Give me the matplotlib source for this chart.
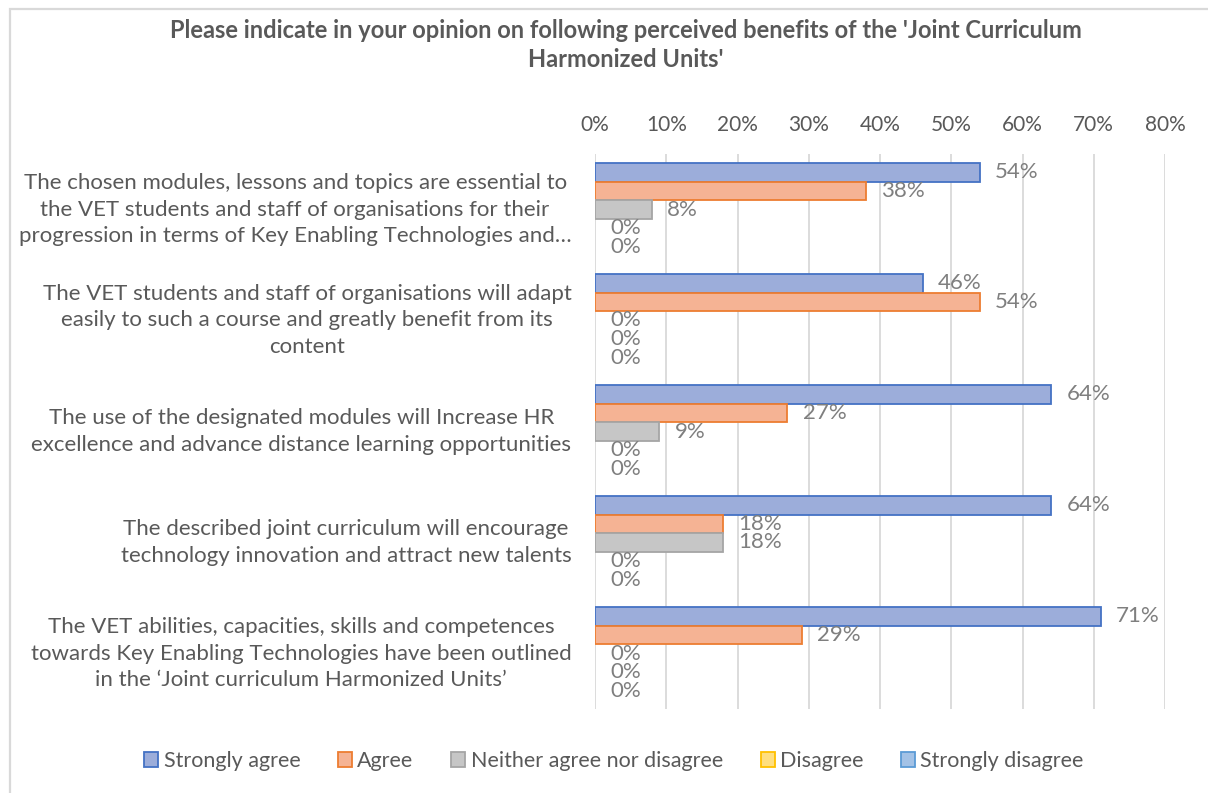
import matplotlib
matplotlib.use('Agg')
import matplotlib.pyplot as plt
import numpy as np
from matplotlib.patches import Rectangle, Patch

plt.rcParams['font.family'] = ['Lato', 'DejaVu Sans']

categories = [
    'The chosen modules, lessons and topics are essential to\nthe VET students and staff of organisations for their\nprogression in terms of Key Enabling Technologies and\u2026',
    'The VET students and staff of organisations will adapt\neasily to such a course and greatly benefit from its\ncontent',
    'The use of the designated modules will Increase HR\nexcellence and advance distance learning opportunities',
    'The described joint curriculum will encourage\ntechnology innovation and attract new talents',
    'The VET abilities, capacities, skills and competences\ntowards Key Enabling Technologies have been outlined\nin the \u2018Joint curriculum Harmonized Units\u2019',
]
series = ['Strongly agree', 'Agree', 'Neither agree nor disagree', 'Disagree', 'Strongly disagree']
strongly_agree = [54, 46, 64, 64, 71]
agree = [38, 54, 27, 18, 29]
neither = [8, 0, 9, 18, 0]
disagree = [0, 0, 0, 0, 0]
strongly_disagree = [0, 0, 0, 0, 0]
values = [strongly_agree, agree, neither, disagree, strongly_disagree]

fills = ['#9cadda', '#f5b394', '#c6c6c6', '#ffdf80', '#a3c2e6']
edges = ['#4472c4', '#ed7d31', '#a5a5a5', '#ffc000', '#5b9bd5']
grey_txt = '#595959'
lbl_txt = '#7f7f7f'

W, H = 1208, 793
fig = plt.figure(figsize=(W / 100, H / 100), dpi=100)
ax = fig.add_axes([595 / W, 1 - 709 / H, 570 / W, 555 / H])

# outer chart frame
fig.patches.append(Rectangle((10 / W, -0.1), 1.2, 1 - 9.5 / H + 0.1, transform=fig.transFigure,
                             fill=False, edgecolor='#d9d9d9', linewidth=1.6, zorder=0))

h = 0.1667
y = np.arange(len(categories))
for j, (name, vals) in enumerate(zip(series, values)):
    pos = y + (j - 2) * h
    ec = [edges[j] if v > 0 else 'none' for v in vals]
    ax.barh(pos, vals, height=h, color=fills[j], edgecolor=ec, linewidth=1.3, zorder=3)
    for p, v in zip(pos, vals):
        ax.annotate(f'{v}%', xy=(v, p), xytext=(11, 0), textcoords='offset points',
                    ha='left', va='center', fontsize=16, color=lbl_txt, zorder=4)

ax.set_xlim(0, 80)
ax.set_ylim(4.5, -0.5)
ax.set_xticks(np.arange(0, 81, 10))
ax.set_xticklabels([f'{t}%' for t in range(0, 81, 10)])
ax.xaxis.tick_top()
ax.tick_params(axis='x', length=0, pad=14, labelsize=15, labelcolor=grey_txt)
ax.set_yticks(y)
ax.set_yticklabels(categories, multialignment='center', va='center')
ax.tick_params(axis='y', length=0, pad=17, labelsize=16, labelcolor=grey_txt)
for t in ax.get_yticklabels():
    t.set_linespacing(1.42)
ax.grid(axis='x', color='#d9d9d9', linewidth=1.3, zorder=0)
for s in ax.spines.values():
    s.set_visible(False)

fig.text(626 / W, 1 - 45 / H,
         "Please indicate in your opinion on following perceived benefits of the 'Joint Curriculum\nHarmonized Units'",
         ha='center', va='center', fontsize=17, fontweight='bold', color=grey_txt, linespacing=1.35)

handles = [Patch(facecolor=f, edgecolor=e, linewidth=1.3) for f, e in zip(fills, edges)]
leg = fig.legend(handles, series, loc='center', bbox_to_anchor=(614 / W, 1 - 761 / H), ncol=5,
                 frameon=False, fontsize=15.5, labelcolor=grey_txt, handlelength=0.65,
                 handleheight=0.65, handletextpad=0.25, columnspacing=1.75)

fig.savefig('out.png', dpi=100)
